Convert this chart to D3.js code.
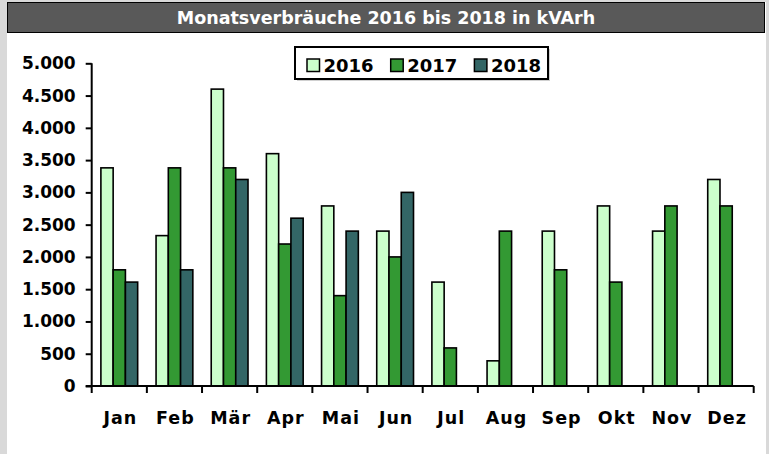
<!DOCTYPE html>
<html>
<head>
<meta charset="utf-8">
<script src="https://cdn.jsdelivr.net/npm/d3@7"></script>
<style>
  html, body { margin: 0; padding: 0; background: #d9d9d9; }
  svg { display: block; }
  text { font-family: "DejaVu Sans", sans-serif; font-weight: bold; }
</style>
</head>
<body>
<svg id="chart" width="769" height="454"></svg>
<script>
"use strict";

// data
const months = ['Jan', 'Feb', 'Mär', 'Apr', 'Mai', 'Jun', 'Jul', 'Aug', 'Sep', 'Okt', 'Nov', 'Dez'];
const years = ['2016', '2017', '2018'];
const v2016 = [3380, 2330, 4600, 3600, 2790, 2400, 1610, 390, 2400, 2790, 2400, 3200];
const v2017 = [1800, 3380, 3380, 2200, 1400, 2000, 590, 2400, 1800, 1610, 2790, 2790];
const v2018 = [1610, 1800, 3200, 2600, 2400, 3000, null, null, null, null, null, null];
const yTicks = [0, 500, 1000, 1500, 2000, 2500, 3000, 3500, 4000, 4500, 5000];
const title = 'Monatsverbräuche 2016 bis 2018 in kVArh';

const colors = {'2016': '#ccffcc', '2017': '#339933', '2018': '#336666'};

const series = {'2016': v2016, '2017': v2017, '2018': v2018};

const svg = d3.select('#chart');
const W = 769, H = 454;

// white panel + title bar
svg.append('rect')
    .attr('x', 7).attr('y', 2)
    .attr('width', 759).attr('height', H - 2)
    .attr('fill', '#fff');

svg.append('rect')
    .attr('x', 7.5).attr('y', 2.5)
    .attr('width', 757).attr('height', 30)
    .attr('fill', '#595959')
    .attr('stroke', '#000').attr('stroke-width', 1);

svg.append('text')
    .attr('x', 386).attr('y', 23.5)
    .attr('text-anchor', 'middle')
    .attr('fill', '#fff')
    .style('font-size', '17.5px')
    .text(title);

// scales
const plot = {left: 91.7, right: 753.7, top: 63.3, bottom: 386};

const x0 = d3.scaleBand()
    .domain(months)
    .range([plot.left, plot.right])
    .padding(0);

const x1 = d3.scaleBand()
    .domain(years)
    .range([0, x0.bandwidth()])
    .paddingInner(0)
    .paddingOuter(0.75);

const y = d3.scaleLinear()
    .domain([0, 5000])
    .range([plot.bottom, plot.top]);

const de = d3.formatLocale({decimal: ',', thousands: '.', grouping: [3], currency: ['', ' €']});
const fmt = de.format(',');

// bars
const rows = [];
months.forEach((m, i) => {
    years.forEach(yr => {
        const v = series[yr][i];
        if (v != null) rows.push({month: m, year: yr, value: v});
    });
});

svg.append('g').selectAll('rect')
    .data(rows).enter()
    .append('rect')
        .attr('x', d => x0(d.month) + x1(d.year))
        .attr('y', d => y(d.value))
        .attr('width', x1.bandwidth())
        .attr('height', d => y(0) - y(d.value))
        .attr('fill', d => colors[d.year])
        .attr('stroke', '#000')
        .attr('stroke-width', 1.6);

// y axis
const axisY = svg.append('g')
    .attr('transform', 'translate(' + plot.left + ',0)')
    .call(d3.axisLeft(y).tickValues(yTicks).tickFormat(fmt).tickSize(6).tickPadding(10));
axisY.select('.domain').attr('stroke', '#000').attr('stroke-width', 2)
    .attr('d', 'M0,' + plot.top + 'V' + plot.bottom);
axisY.selectAll('.tick line').attr('stroke', '#000').attr('stroke-width', 2);
axisY.selectAll('.tick text')
    .attr('fill', '#000')
    .style('font-size', '17px')
    .style('font-family', '"DejaVu Sans", sans-serif')
    .style('font-weight', 'bold');

// x axis: ticks on category boundaries
const axisX = svg.append('g');
axisX.append('line')
    .attr('x1', plot.left - 6).attr('x2', plot.right)
    .attr('y1', plot.bottom).attr('y2', plot.bottom)
    .attr('stroke', '#000').attr('stroke-width', 2);
axisX.selectAll('.xtick')
    .data(months.concat(['end'])).enter()
    .append('line')
        .attr('x1', d => d === 'end' ? plot.right : x0(d))
        .attr('x2', d => d === 'end' ? plot.right : x0(d))
        .attr('y1', plot.bottom)
        .attr('y2', plot.bottom + 7)
        .attr('stroke', '#000').attr('stroke-width', 2);
axisX.selectAll('.xlabel')
    .data(months).enter()
    .append('text')
        .attr('x', d => x0(d) + x0.bandwidth() / 2 + 1)
        .attr('y', 424)
        .attr('text-anchor', 'middle')
        .style('font-size', '17.5px')
        .style('letter-spacing', '1px')
        .text(d => d);

// legend
const legend = svg.append('g');
legend.append('rect')
    .attr('x', 297).attr('y', 49)
    .attr('width', 253).attr('height', 32)
    .attr('fill', '#d0d0d0');
legend.append('rect')
    .attr('x', 295).attr('y', 47)
    .attr('width', 253).attr('height', 32)
    .attr('fill', '#fff')
    .attr('stroke', '#000').attr('stroke-width', 2);

const item = legend.selectAll('.item')
    .data(years).enter()
    .append('g')
        .attr('transform', (d, i) => 'translate(' + (307 + i * 83.7) + ',59)');
item.append('rect')
    .attr('width', 12.5).attr('height', 12.5)
    .attr('fill', d => colors[d])
    .attr('stroke', '#000').attr('stroke-width', 1.5);
item.append('text')
    .attr('x', 16.5).attr('y', 13)
    .style('font-size', '18px')
    .text(d => d);
</script>
</body>
</html>
